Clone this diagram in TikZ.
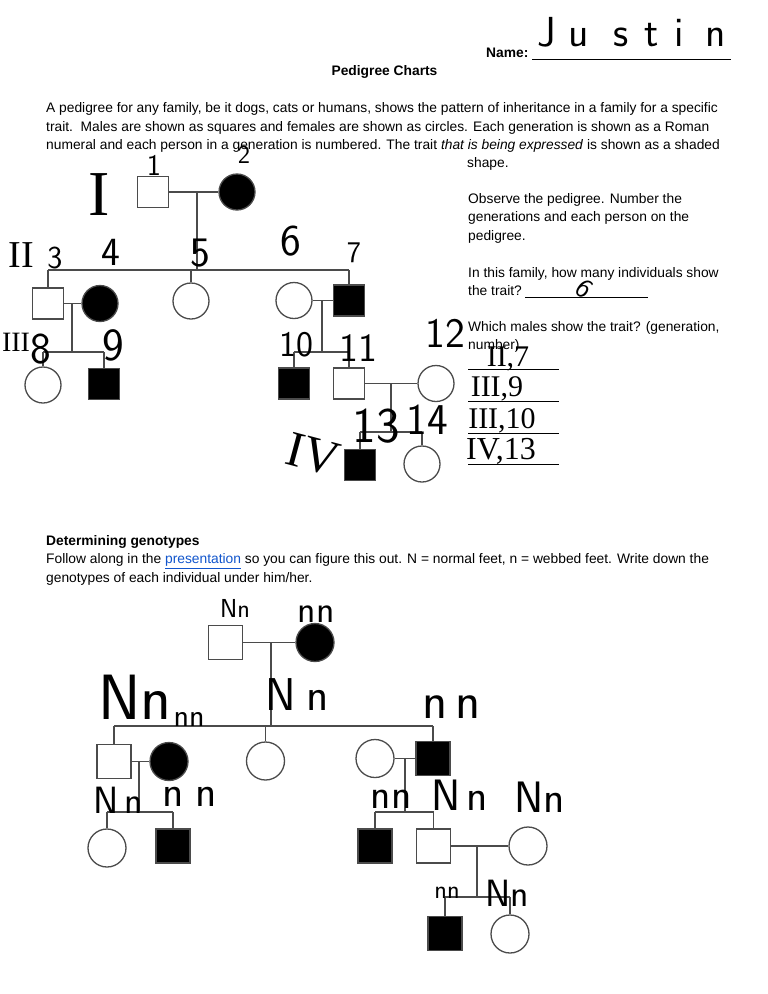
\documentclass[tikz,border=0pt]{standalone}
\usepackage{fontspec}
\setmainfont{Liberation Sans}
\newfontfamily\romfont{Liberation Serif}
\definecolor{lncol}{RGB}{75,75,75}
\definecolor{linkblue}{RGB}{17,85,204}
\newcommand\bodyfont{\fontsize{13.8}{16}\selectfont}
\newcommand\hwf[1]{\fontsize{#1}{#1}\sffamily}
\newcommand\rmf[1]{\fontsize{#1}{#1}\romfont}
\tikzset{
  ln/.style={draw=lncol, line width=1.4pt},
  male/.style={rectangle, draw=lncol, line width=1.3pt, minimum size=31pt, inner sep=0pt},
  female/.style={circle, draw=lncol, line width=1.3pt, minimum size=36pt, inner sep=0pt},
  bmale/.style={male, minimum size=34pt},
  bfemale/.style={female, minimum size=38pt},
  aff/.style={fill=black},
  body/.style={anchor=base west, inner sep=0pt, font=\bodyfont},
  hw/.style={inner sep=0pt, text=black},
  rule/.style={draw=black, line width=0.8pt}
}
\begin{document}
\begin{tikzpicture}[x=1pt,y=-1pt]
\fill[white] (0,0) rectangle (768,994);
\useasboundingbox (0,0) rectangle (768,994);

% ---------- header ----------
\node[body, font=\bodyfont\bfseries] (name) at (486,57.5) {Name:};
\coordinate (nameA) at (532,59.5);
\coordinate (nameB) at (731,59.5);
\draw[rule] (nameA) -- (nameB);
\node[hw, anchor=base west] (justin) at (537,46) {\hwf{42}J\hspace{13pt}u\hspace{24pt}s\hspace{16pt}t\hspace{16pt}i\hspace{22pt}n};
\node[anchor=base, inner sep=0pt, font=\bodyfont\bfseries] (title) at (384.5,75.5) {Pedigree Charts};

\node[body] (par1) at (46,112.5) {A pedigree for any family, be it dogs, cats or humans, shows the pattern of inheritance in a family for a specific};
\node[body] (par2) at (46,131) {trait.\ \ Males are shown as squares and females are shown as circles. Each generation is shown as a Roman};
\node[body] (par3) at (46,149) {numeral and each person in a generation is numbered. The trait \textit{that is being expressed} is shown as a shaded};
\node[body] (par4) at (467,167.5) {shape.};

\node[body] (obs1) at (468,203) {Observe the pedigree. Number the};
\node[body] (obs2) at (468,221.5) {generations and each person on the};
\node[body] (obs3) at (468,240) {pedigree.};
\node[body] (q1a) at (468,277) {In this family, how many individuals show};
\node[body] (q1b) at (468,295.5) {the trait?};
\coordinate (tA) at (525,297.5);
\coordinate (tB) at (648,297.5);
\draw[rule] (tA) -- (tB);
\node[body] (q2a) at (468,331) {Which males show the trait? (generation,};
\node[body] (q2b) at (468,349) {number)};
\foreach \yy/\nm in {369/r1,401/r2,433/r3,464/r4}{
  \coordinate (\nm a) at (468,\yy);
  \coordinate (\nm b) at (559,\yy);
  \draw[rule] (\nm a) -- (\nm b);
}

% ---------- top pedigree ----------
\node[male] (a1) at (153,192) {};
\node[female, aff] (a2) at (237,192) {};
\draw[ln] (a1) -- (a2);
\coordinate (j12) at (197,192);
\coordinate (j12d) at (197,270);
\draw[ln] (j12) -- (j12d);

\node[male] (a3) at (48,303.5) {};
\node[female, aff] (a4) at (100,303.5) {};
\node[female] (a5) at (191,301) {};
\node[female] (a6) at (294,300.5) {};
\node[male, aff] (a7) at (349,300.5) {};
\draw[ln] (a3.north |- j12d) -- (a7.north |- j12d);
\foreach \p in {a3,a5,a7} \draw[ln] (\p.north) -- (\p.north |- j12d);

\draw[ln] (a3) -- (a4);
\coordinate (j34) at (72,303.5);
\coordinate (j34d) at (72,352);
\draw[ln] (j34) -- (j34d);
\node[female] (a8) at (43,385) {};
\node[male, aff] (a9) at (104,384) {};
\draw[ln] (a8.north |- j34d) -- (a9.north |- j34d);
\foreach \p in {a8,a9} \draw[ln] (\p.north) -- (\p.north |- j34d);

\draw[ln] (a6) -- (a7);
\coordinate (j67) at (322,300.5);
\coordinate (j67d) at (322,352);
\draw[ln] (j67) -- (j67d);
\node[male, aff] (a10) at (294,383.5) {};
\node[male] (a11) at (349,383.5) {};
\node[female] (a12) at (436,383.5) {};
\draw[ln] (a10.north |- j67d) -- (a11.north |- j67d);
\foreach \p in {a10,a11} \draw[ln] (\p.north) -- (\p.north |- j67d);

\draw[ln] (a11) -- (a12);
\coordinate (j1112) at (391,383.5);
\coordinate (j1112d) at (391,432);
\draw[ln] (j1112) -- (j1112d);
\node[male, aff] (a13) at (360,465) {};
\node[female] (a14) at (422,464) {};
\draw[ln] (a13.north |- j1112d) -- (a14.north |- j1112d);
\foreach \p in {a13,a14} \draw[ln] (\p.north) -- (\p.north |- j1112d);

% handwritten numbering
\node[hw] (h1) at (154,165) {\hwf{30}1};
\node[hw] (h2) at (244,155) {\hwf{26}2};
\node[hw] (hI) at (99,195) {\rmf{64}I};
\node[hw] (hII) at (21,255) {\rmf{38}II};
\node[hw] (h3) at (55,258) {\hwf{32}3};
\node[hw] (h4) at (111,252) {\hwf{40}4};
\node[hw] (h5) at (200,253) {\hwf{42}5};
\node[hw] (h6) at (291,241) {\hwf{44}6};
\node[hw] (h7) at (354,253) {\hwf{30}7};
\node[hw] (hIII) at (16,342) {\rmf{28}III};
\node[hw] (h8) at (41,349) {\hwf{44}8};
\node[hw] (h9) at (113,345) {\hwf{46}9};
\node[hw] (h10) at (296,345) {\hwf{36}10};
\node[hw] (h11) at (358,348) {\hwf{40}11};
\node[hw] (h12) at (445,333) {\hwf{42}12};
\node[hw] (h13) at (376,426) {\hwf{50}13};
\node[hw] (h14) at (427,420) {\hwf{44}14};
\node[hw, rotate=-15] (hIV) at (313,455) {\rmf{50}IV};
\node[hw, rotate=-40] (hsix) at (584,289) {\hwf{28}6};
\node[hw] (ans1) at (508,359) {\rmf{30}II,7};
\node[hw] (ans2) at (497,389) {\rmf{30}III,9};
\node[hw] (ans3) at (502,421) {\rmf{30}III,10};
\node[hw] (ans4) at (501,451) {\rmf{32}IV,13};

% ---------- genotypes section ----------
\node[body, font=\bodyfont\bfseries] (gt) at (46,545.5) {Determining genotypes};
\node[body] (gt1) at (46,563.5) {Follow along in the \textcolor{linkblue}{\underline{presentation}} so you can figure this out. N = normal feet, n = webbed feet. Write down the};
\node[body] (gt2) at (46,582) {genotypes of each individual under him/her.};

% ---------- bottom pedigree ----------
\node[bmale] (b1) at (225.5,642.5) {};
\node[bfemale, aff] (b2) at (315,642.5) {};
\draw[ln] (b1) -- (b2);
\coordinate (k12) at (271,642.5);
\coordinate (k12d) at (271,726);
\draw[ln] (k12) -- (k12d);

\node[bmale] (b3) at (114,761.5) {};
\node[bfemale, aff] (b4) at (169,761.5) {};
\node[bfemale] (b5) at (265.5,761) {};
\node[bfemale] (b6) at (375,758.5) {};
\node[bmale, aff] (b7) at (433,758.5) {};
\draw[ln] (b3.north |- k12d) -- (b7.north |- k12d);
\foreach \p in {b3,b5,b7} \draw[ln] (\p.north) -- (\p.north |- k12d);

\draw[ln] (b3) -- (b4);
\coordinate (k34) at (139,761.5);
\coordinate (k34d) at (139,812);
\draw[ln] (k34) -- (k34d);
\node[bfemale] (b8) at (107,848) {};
\node[bmale, aff] (b9) at (173,846) {};
\draw[ln] (b8.north |- k34d) -- (b9.north |- k34d);
\foreach \p in {b8,b9} \draw[ln] (\p.north) -- (\p.north |- k34d);

\draw[ln] (b6) -- (b7);
\coordinate (k67) at (405,758.5);
\coordinate (k67d) at (405,812);
\draw[ln] (k67) -- (k67d);
\node[bmale, aff] (b10) at (375,846) {};
\node[bmale] (b11) at (433.5,846) {};
\node[bfemale] (b12) at (528,846) {};
\draw[ln] (b10.north |- k67d) -- (b11.north |- k67d);
\foreach \p in {b10,b11} \draw[ln] (\p.north) -- (\p.north |- k67d);

\draw[ln] (b11) -- (b12);
\coordinate (k1112) at (477,846);
\coordinate (k1112d) at (477,897);
\draw[ln] (k1112) -- (k1112d);
\node[bmale, aff] (b13) at (445,933.5) {};
\node[bfemale] (b14) at (510,934) {};
\draw[ln] (b13.north |- k1112d) -- (b14.north |- k1112d);
\foreach \p in {b13,b14} \draw[ln] (\p.north) -- (\p.north |- k1112d);

% handwritten genotypes
\node[hw] (g1) at (235,608) {\hwf{26}Nn};
\node[hw] (g2) at (316,614) {\hwf{38}nn};
\node[hw] (g3) at (135,697) {\hwf{64}Nn};
\node[hw] (g4) at (189,719) {\hwf{32}nn};
\node[hw] (g5) at (297,695) {\hwf{46}N\hspace{10pt}n};
\node[hw] (g7) at (452,707) {\hwf{52}n\hspace{8pt}n};
\node[hw] (g3b) at (118,800) {\hwf{38}N\hspace{6pt}n};
\node[hw] (g4b) at (190,797) {\hwf{44}n\hspace{12pt}n};
\node[hw] (g10) at (391,799) {\hwf{42}nn};
\node[hw] (g11) at (460,795) {\hwf{44}N\hspace{6pt}n};
\node[hw] (g12) at (540,797) {\hwf{44}Nn};
\node[hw] (g13) at (447,893) {\hwf{26}nn};
\node[hw] (g14) at (507,893) {\hwf{38}Nn};
\end{tikzpicture}
\end{document}
